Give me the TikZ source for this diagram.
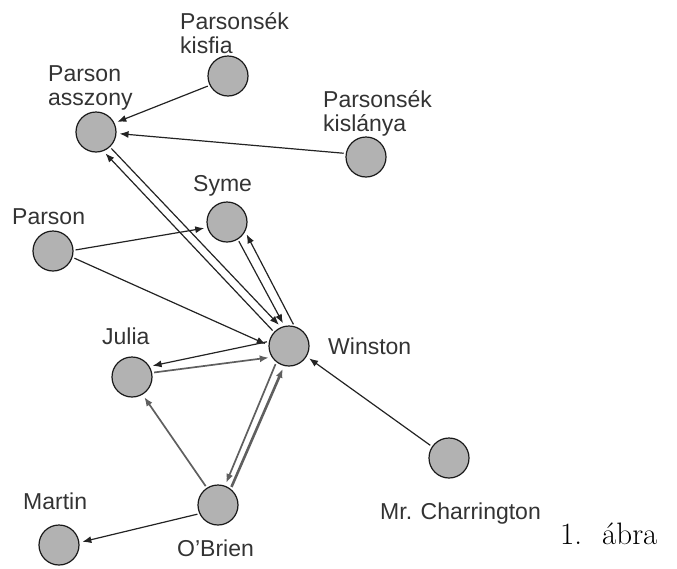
\documentclass[tikz,border=0pt]{standalone}
\usepackage{fontspec}
\setsansfont{Liberation Sans}
\usetikzlibrary{arrows.meta}
\definecolor{nodegray}{RGB}{178,178,178}
\definecolor{linedark}{RGB}{35,35,35}
\definecolor{linegray}{RGB}{95,95,95}

\begin{document}
\begin{tikzpicture}[
    x=1pt, y=-1pt,
    >={Latex[length=9pt,width=7pt]},
    % node styles
    person/.style = {
      circle,
      draw=black!90,
      line width=1.2pt,
      fill=nodegray,
      minimum size=40pt,
      inner sep=0pt
    },
    lbl/.style = {
      anchor=north west,
      inner sep=0pt,
      align=left,
      font=\sffamily\fontsize{23}{24}\selectfont,
      text=black!80
    },
    % arrow styles
    arr/.style = {->, line width=1.2pt, draw=linedark, shorten >=3pt, shorten <=2pt},
    grayarr/.style = {->, line width=1.7pt, draw=linegray, shorten >=3pt, shorten <=2pt},
    thickarr/.style = {->, line width=2.6pt, draw=linegray, shorten >=3pt, shorten <=2pt}
  ]
  \useasboundingbox (0,0) rectangle (677,568);

  % --- People
  \node[person] (kisfia)   at (228,76)  {};
  \node[person] (asszony)  at (96,132)  {};
  \node[person] (kislanya) at (366,157) {};
  \node[person] (syme)     at (227,222) {};
  \node[person] (parson)   at (53,251)  {};
  \node[person] (winston)  at (289,346) {};
  \node[person] (julia)    at (132,377) {};
  \node[person] (charr)    at (449,458) {};
  \node[person] (obrien)   at (218,505) {};
  \node[person] (martin)   at (59,545)  {};

  % --- Names
  \node[lbl] (kisfianame)   at (180,12)  {Parsonsék\\kisfia};
  \node[lbl] (asszonyname)  at (48,65)   {Parson\\asszony};
  \node[lbl] (kislanyaname) at (323,90)  {Parsonsék\\kislánya};
  \node[lbl] (symename)     at (193,175) {Syme};
  \node[lbl] (parsonname)   at (12,208)  {Parson};
  \node[lbl] (julianame)    at (102,328) {Julia};
  \node[lbl] (winstonname)  at (328,338) {Winston};
  \node[lbl] (charrname)    at (380,503) {Mr. Charrington};
  \node[lbl] (obrienname)   at (177,540) {O'Brien};
  \node[lbl] (martinname)   at (23,493)  {Martin};

  \node[anchor=base west, inner sep=0pt, font=\fontsize{31}{31}\selectfont]
    (caption) at (560,544) {1.\hspace{20pt}ábra};

  % --- Arrows
  \draw[arr] (kisfia.207) -- (asszony.26);
  \draw[arr] (kislanya.170) -- (asszony.-4);
  \draw[arr] (winston.137) -- (asszony.-69);
  \draw[arr] (asszony.-47) -- (winston.113);
  \draw[arr] (parson.2) -- (syme.-164);
  \draw[arr] (parson.-18) -- (winston.178);
  \draw[arr] (syme.-58) -- (winston.103);
  \draw[arr] (winston.75) -- (syme.-28);
  \draw[arr] (winston.167) -- (julia.31);
  \draw[grayarr] (julia.12) -- (winston.213);
  \draw[grayarr] (obrien.123) -- (julia.-59);
  \draw[grayarr] (winston.232) -- (obrien.70);
  \draw[thickarr] (obrien.52) -- (winston.256);
  \draw[arr] (charr.146) -- (winston.-31);
  \draw[arr] (obrien.-155) -- (martin.7);

\end{tikzpicture}
\end{document}
